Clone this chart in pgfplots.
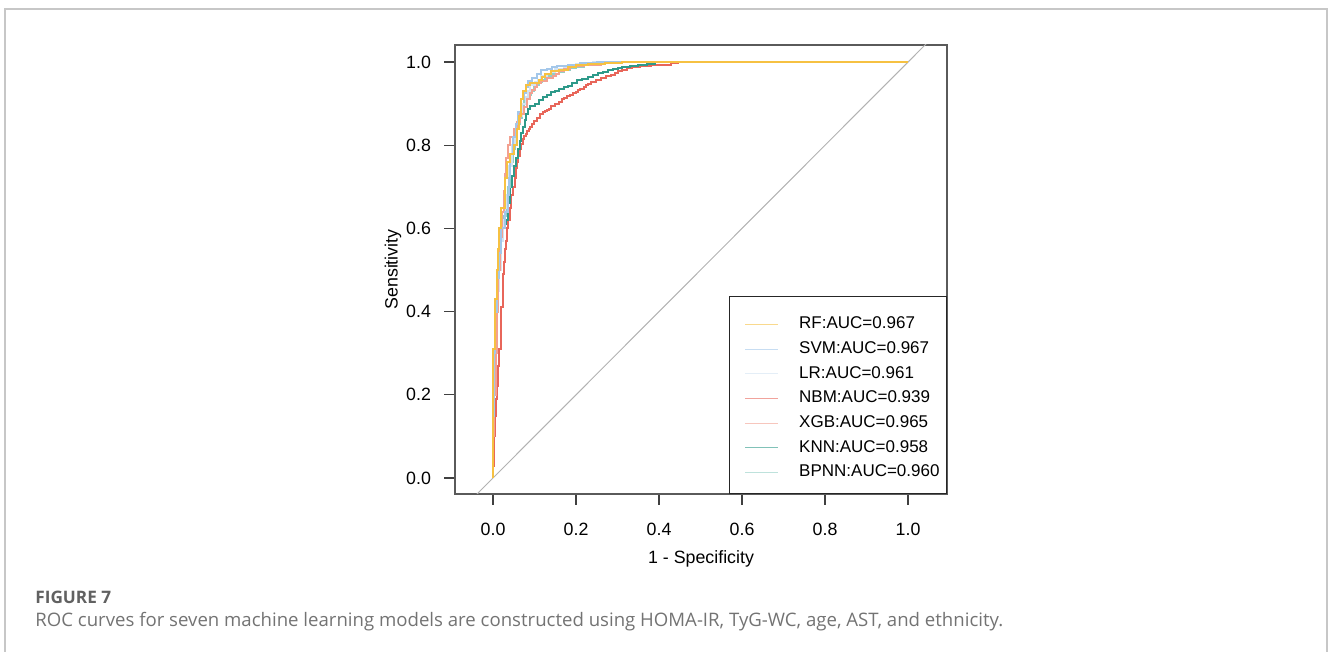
\documentclass[border=0pt]{standalone}
\usepackage{fontspec}
\setmainfont{Liberation Sans}
\newfontfamily\capfont{Open Sans}
\usepackage{pgfplots}
\pgfplotsset{compat=1.18}
\definecolor{cRF}{HTML}{F6C142}
\definecolor{cSVM}{HTML}{A3C7EA}
\definecolor{cLR}{HTML}{D3E3F2}
\definecolor{cNBM}{HTML}{E8665A}
\definecolor{cXGB}{HTML}{F3A191}
\definecolor{cKNN}{HTML}{2E9A8A}
\definecolor{cBPNN}{HTML}{93CFC6}
\definecolor{boxgray}{HTML}{5A5A5A}

\begin{document}
\begin{tikzpicture}[x=0.5bp,y=0.5bp]
\useasboundingbox (0,0) rectangle (1328,652);
\draw[color=black!22, line width=1bp] (4.5,0) -- (4.5,643) -- (1327,643) -- (1327,0);
\node[anchor=base west, inner sep=0, text=black!62] at (35,48)
  {\capfont\fontsize{8.6bp}{10bp}\selectfont\bfseries FIGURE 7};
\node[anchor=base west, inner sep=0, text=black!55] at (35,25)
  {\capfont\fontsize{9.3bp}{11bp}\selectfont ROC curves for seven machine learning models are constructed using HOMA-IR, TyG-WC, age, AST, and ethnicity.};

\begin{axis}[at={(227.5bp,79bp)}, anchor=south west, scale only axis,
  width=246bp, height=224.5bp,
  xmin=-0.0916, xmax=1.094, ymin=-0.0385, ymax=1.041,
  xtick={0,0.2,0.4,0.6,0.8,1}, ytick={0,0.2,0.4,0.6,0.8,1},
  /pgf/number format/assume math mode=true,
  xticklabel={\pgfmathprintnumber[fixed,fixed zerofill,precision=1]{\tick}},
  yticklabel={\pgfmathprintnumber[fixed,fixed zerofill,precision=1]{\tick}},
  tick pos=left, tick align=outside, major tick length=5.5bp,
  tick style={black!75, line width=0.6bp},
  axis line style={boxgray, line width=0.75bp},
  ticklabel style={font=\fontsize{8.9bp}{10.5bp}\selectfont},
  label style={font=\fontsize{8.9bp}{10.5bp}\selectfont},
  xticklabel shift=5.5bp, yticklabel shift=3bp,
  xlabel={1 - Specificity}, ylabel={Sensitivity},
  xlabel style={at={(axis description cs:0.5,-0.145)}, anchor=center},
  ylabel style={at={(axis description cs:-0.126,0.5)}, anchor=center},
  legend cell align=left,
  legend image code/.code={\path[draw=none] (-4.5bp,0bp) -- (27bp,0bp);\draw[#1] (0bp,0bp) -- (16.5bp,0bp);},
  legend style={at={(1,0)}, anchor=south east, draw=black!85, line width=0.5bp,
    font=\fontsize{8.5bp}{10bp}\selectfont, inner xsep=3.5bp, inner ysep=6.3bp,
    row sep=3.9bp, column sep=0bp,
    nodes={inner xsep=0bp, inner ysep=0.5bp}},
  every axis plot/.append style={line width=1bp, mark=none, const plot mark right},
]
\addplot[black!30, line width=0.5bp, sharp plot, forget plot] coordinates {(-0.2,-0.2) (1.2,1.2)};

% NBM
\addplot[cNBM, forget plot] coordinates {
(0,0) (0.002,0.03) (0.003,0.06) (0.005,0.1) (0.008,0.15) (0.01,0.19) (0.012,0.22)
(0.015,0.27) (0.018,0.31) (0.02,0.35) (0.023,0.41) (0.025,0.45) (0.027,0.49)
(0.028,0.52) (0.031,0.55) (0.033,0.57) (0.037,0.6) (0.04,0.62) (0.044,0.65)
(0.048,0.68) (0.052,0.7) (0.055,0.72) (0.058,0.745) (0.06,0.76) (0.064,0.775)
(0.068,0.79) (0.072,0.803) (0.075,0.815) (0.079,0.822) (0.083,0.828) (0.087,0.835)
(0.09,0.84) (0.094,0.845) (0.098,0.85) (0.105,0.858) (0.112,0.866) (0.12,0.875)
(0.125,0.879) (0.13,0.882) (0.135,0.885) (0.14,0.888) (0.15,0.894) (0.16,0.9)
(0.166,0.905) (0.172,0.91) (0.178,0.914) (0.185,0.918) (0.192,0.921) (0.2,0.925)
(0.205,0.929) (0.21,0.932) (0.218,0.936) (0.225,0.94) (0.23,0.944) (0.235,0.948)
(0.248,0.953) (0.26,0.958) (0.272,0.962) (0.285,0.967) (0.293,0.97) (0.3,0.973)
(0.31,0.978) (0.322,0.982) (0.335,0.986) (0.355,0.988) (0.38,0.99) (0.405,0.992)
(0.43,0.994) (0.445,0.997) (0.46,1.0) (1,1)};
% KNN
\addplot[cKNN, forget plot] coordinates {
(0,0) (0.002,0.1) (0.003,0.23) (0.005,0.26) (0.008,0.3) (0.01,0.35) (0.012,0.4)
(0.014,0.45) (0.016,0.5) (0.018,0.53) (0.02,0.56) (0.024,0.585) (0.027,0.6)
(0.031,0.61) (0.035,0.62) (0.04,0.66) (0.045,0.7) (0.05,0.725) (0.055,0.75)
(0.06,0.77) (0.065,0.79) (0.068,0.81) (0.072,0.83) (0.076,0.845) (0.08,0.86)
(0.085,0.875) (0.09,0.888) (0.1,0.894) (0.11,0.9) (0.12,0.908) (0.13,0.915)
(0.14,0.921) (0.15,0.927) (0.16,0.931) (0.17,0.935) (0.18,0.939) (0.19,0.943)
(0.203,0.95) (0.215,0.956) (0.228,0.96) (0.24,0.965) (0.253,0.969) (0.265,0.973)
(0.278,0.977) (0.29,0.98) (0.3,0.983) (0.31,0.986) (0.33,0.988) (0.35,0.99)
(0.37,0.993) (0.39,0.996) (0.41,1.0) (1,1)};
% BPNN
\addplot[cBPNN, forget plot] coordinates {
(0,0) (0.002,0.14) (0.006,0.3) (0.009,0.36) (0.012,0.42) (0.015,0.47) (0.018,0.52)
(0.025,0.58) (0.032,0.63) (0.036,0.67) (0.04,0.7) (0.048,0.76) (0.052,0.79)
(0.056,0.81) (0.065,0.85) (0.07,0.865) (0.075,0.88) (0.085,0.91) (0.092,0.92)
(0.098,0.93) (0.11,0.945) (0.118,0.951) (0.125,0.957) (0.135,0.962) (0.145,0.967)
(0.158,0.972) (0.17,0.977) (0.185,0.981) (0.2,0.985) (0.22,0.989) (0.24,0.992)
(0.26,0.995) (0.28,0.997) (0.32,1.0) (1,1)};
% LR
\addplot[cLR, forget plot] coordinates {
(0,0) (0.002,0.12) (0.006,0.28) (0.009,0.34) (0.012,0.4) (0.015,0.45) (0.018,0.5)
(0.024,0.57) (0.03,0.62) (0.034,0.65) (0.038,0.68) (0.045,0.75) (0.052,0.8)
(0.056,0.82) (0.06,0.84) (0.065,0.855) (0.07,0.87) (0.08,0.9) (0.085,0.915)
(0.09,0.93) (0.1,0.945) (0.108,0.952) (0.115,0.958) (0.13,0.967) (0.14,0.971)
(0.15,0.975) (0.17,0.983) (0.185,0.987) (0.2,0.99) (0.24,0.995) (0.29,1.0) (1,1)};
% XGB
\addplot[cXGB, forget plot] coordinates {
(0,0) (0.003,0.1) (0.006,0.2) (0.01,0.3) (0.013,0.4) (0.017,0.5) (0.022,0.58)
(0.026,0.64) (0.028,0.69) (0.031,0.73) (0.036,0.77) (0.042,0.8) (0.05,0.82)
(0.058,0.84) (0.066,0.855) (0.074,0.875) (0.082,0.893) (0.088,0.91) (0.093,0.925)
(0.1,0.933) (0.105,0.94) (0.115,0.95) (0.13,0.955) (0.145,0.962) (0.152,0.967)
(0.16,0.972) (0.172,0.978) (0.185,0.984) (0.2,0.987) (0.22,0.99) (0.24,0.992)
(0.26,0.994) (0.3,0.998) (0.33,1.0) (1,1)};
% SVM
\addplot[cSVM, forget plot] coordinates {
(0,0) (0.002,0.15) (0.005,0.3) (0.01,0.4) (0.015,0.48) (0.02,0.54) (0.028,0.6)
(0.035,0.64) (0.038,0.68) (0.04,0.72) (0.048,0.78) (0.055,0.82) (0.06,0.85)
(0.068,0.88) (0.075,0.91) (0.08,0.925) (0.085,0.94) (0.095,0.955) (0.105,0.962)
(0.115,0.972) (0.13,0.98) (0.142,0.984) (0.155,0.988) (0.18,0.99) (0.21,0.994)
(0.25,0.997) (0.28,1.0) (1,1)};
% RF
\addplot[cRF, forget plot] coordinates {
(0,0) (0.001,0.1) (0.001,0.22) (0.005,0.31) (0.009,0.43) (0.012,0.5) (0.015,0.55)
(0.02,0.6) (0.028,0.65) (0.03,0.69) (0.033,0.72) (0.04,0.76) (0.05,0.78) (0.058,0.8)
(0.062,0.84) (0.068,0.87) (0.073,0.91) (0.08,0.93) (0.09,0.945) (0.11,0.95)
(0.118,0.958) (0.125,0.965) (0.14,0.972) (0.16,0.978) (0.18,0.982) (0.2,0.988)
(0.23,0.993) (0.27,0.996) (0.31,0.998) (0.34,1.0) (1,1)};

\addlegendimage{draw=cRF, draw opacity=0.6, line width=0.6bp,
  legend image code/.code={\path[draw=none] (-4.5bp,7.5bp) -- (27bp,0bp);\draw (0bp,0bp) -- (16.5bp,0bp);}}
\addlegendentry{RF:AUC=0.967}
\addlegendimage{draw=cSVM, draw opacity=0.6, line width=0.6bp}
\addlegendentry{SVM:AUC=0.967}
\addlegendimage{draw=cLR, draw opacity=0.6, line width=0.6bp}
\addlegendentry{LR:AUC=0.961}
\addlegendimage{draw=cNBM, draw opacity=0.6, line width=0.6bp}
\addlegendentry{NBM:AUC=0.939}
\addlegendimage{draw=cXGB, draw opacity=0.6, line width=0.6bp}
\addlegendentry{XGB:AUC=0.965}
\addlegendimage{draw=cKNN, draw opacity=0.6, line width=0.6bp}
\addlegendentry{KNN:AUC=0.958}
\addlegendimage{draw=cBPNN, draw opacity=0.6, line width=0.6bp}
\addlegendentry{BPNN:AUC=0.960}
\end{axis}
\end{tikzpicture}
\end{document}
